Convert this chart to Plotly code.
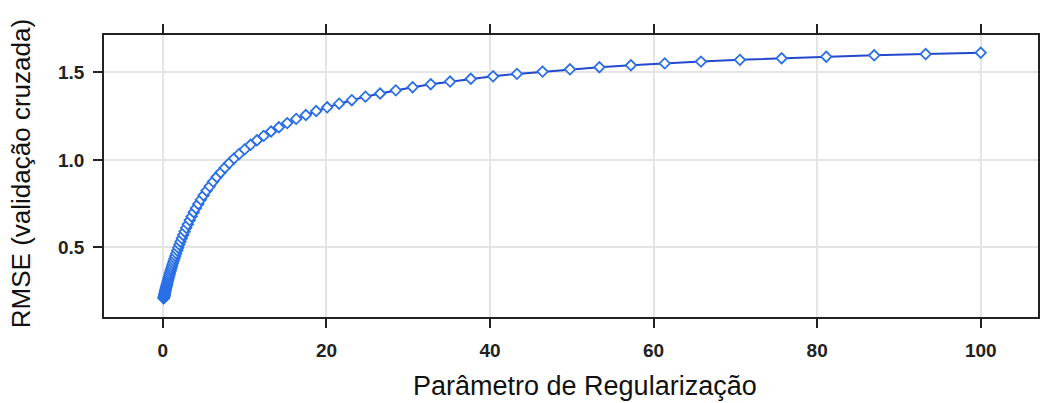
import plotly.graph_objects as go

# Regularization parameter grid (log-spaced lambda values)
lambdas = [
    0.100, 0.107, 0.115, 0.123, 0.132, 0.142, 0.152, 0.163, 0.175, 0.187,
    0.201, 0.215, 0.231, 0.248, 0.266, 0.285, 0.305, 0.327, 0.351, 0.376,
    0.404, 0.433, 0.464, 0.498, 0.534, 0.572, 0.613, 0.658, 0.705, 0.756,
    0.811, 0.870, 0.933, 1.00, 1.07, 1.15, 1.23, 1.32, 1.42, 1.52,
    1.63, 1.75, 1.87, 2.01, 2.15, 2.31, 2.48, 2.66, 2.85, 3.05,
    3.28, 3.51, 3.77, 4.04, 4.33, 4.64, 4.98, 5.34, 5.72, 6.14,
    6.58, 7.06, 7.57, 8.11, 8.70, 9.33, 10.00, 10.72, 11.50, 12.33,
    13.22, 14.18, 15.20, 16.30, 17.48, 18.74, 20.09, 21.55, 23.10, 24.77,
    26.56, 28.48, 30.54, 32.75, 35.11, 37.65, 40.37, 43.29, 46.42, 49.77,
    53.37, 57.22, 61.36, 65.79, 70.55, 75.65, 81.11, 86.97, 93.26, 100.00,
]

# Cross-validated RMSE for each lambda
rmse = [
    0.210, 0.212, 0.213, 0.215, 0.217, 0.219, 0.221, 0.224, 0.226, 0.229,
    0.232, 0.235, 0.239, 0.242, 0.246, 0.250, 0.254, 0.258, 0.263, 0.268,
    0.273, 0.278, 0.284, 0.290, 0.297, 0.303, 0.311, 0.319, 0.327, 0.336,
    0.345, 0.355, 0.365, 0.375, 0.386, 0.398, 0.410, 0.423, 0.437, 0.451,
    0.466, 0.482, 0.498, 0.516, 0.533, 0.552, 0.571, 0.591, 0.612, 0.632,
    0.655, 0.677, 0.701, 0.724, 0.748, 0.773, 0.798, 0.824, 0.849, 0.876,
    0.902, 0.928, 0.955, 0.981, 1.008, 1.034, 1.060, 1.086, 1.112, 1.137,
    1.162, 1.186, 1.210, 1.234, 1.256, 1.279, 1.300, 1.321, 1.341, 1.361,
    1.379, 1.397, 1.415, 1.432, 1.447, 1.463, 1.477, 1.491, 1.504, 1.517,
    1.529, 1.540, 1.551, 1.561, 1.571, 1.580, 1.589, 1.597, 1.604, 1.612,
]

x_ticks = [0, 20, 40, 60, 80, 100]
y_ticks = [0.5, 1.0, 1.5]
y_tick_labels = ["0.5", "1.0", "1.5"]

x_title = "Parâmetro de Regularização"
y_title = "RMSE (validação cruzada)"

fig = go.Figure()
fig.add_trace(go.Scatter(
    x=lambdas,
    y=rmse,
    mode="lines+markers",
    line=dict(color="#2448cc", width=2),
    marker=dict(symbol="diamond", size=8, color="white",
                line=dict(color="#2a6fe8", width=1.8)),
    showlegend=False,
))

axis_common = dict(
    showline=True,
    linecolor="#222222",
    linewidth=1.6,
    showgrid=True,
    gridcolor="#e4e4e4",
    gridwidth=2,
    zeroline=False,
    ticks="outside",
    ticklen=9,
    tickwidth=2,
    tickcolor="#222222",
    tickfont=dict(family="Liberation Sans, Arial, sans-serif", size=19,
                  color="#222222", weight="bold"),
)

fig.update_xaxes(
    **axis_common,
    range=[-7.2, 107.0],
    tickvals=x_ticks,
    mirror="allticks",
    ticklabelstandoff=6,
)
fig.update_yaxes(
    **axis_common,
    range=[0.103, 1.713],
    tickvals=y_ticks,
    ticktext=y_tick_labels,
    mirror=True,
    ticklabelstandoff=5,
)

fig.add_annotation(
    text=x_title, xref="paper", yref="paper",
    x=0.515, y=-0.243, xanchor="center", yanchor="middle",
    showarrow=False,
    font=dict(family="Liberation Sans, Arial, sans-serif", size=27, color="#111111"),
)
fig.add_annotation(
    text=y_title, xref="paper", yref="paper",
    x=-0.0887, y=0.507, xanchor="center", yanchor="middle",
    textangle=-90, showarrow=False,
    font=dict(family="Liberation Sans, Arial, sans-serif", size=26, color="#111111"),
)

fig.update_layout(
    width=1041,
    height=403,
    margin=dict(l=104, r=1, t=35, b=86),
    paper_bgcolor="white",
    plot_bgcolor="white",
)

fig.write_html("out.html")
